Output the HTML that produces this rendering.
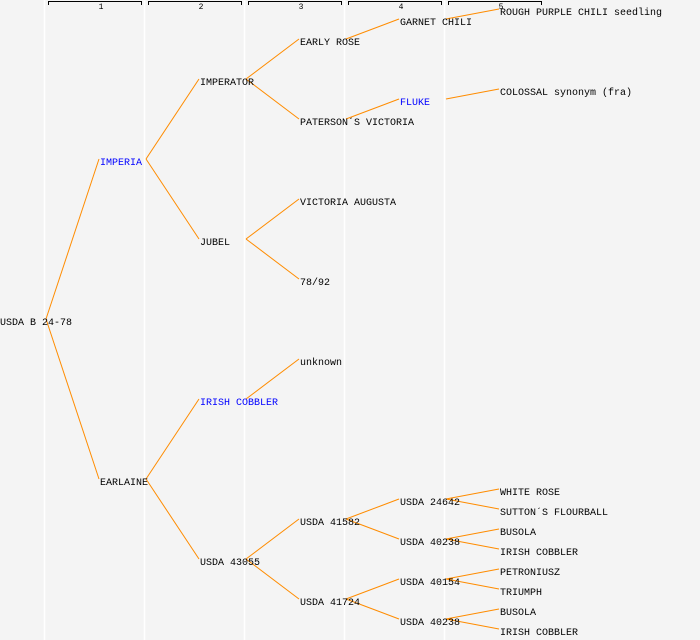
<!DOCTYPE html>
<html><head><meta charset="utf-8"><style>
html,body{margin:0;padding:0;background:#f4f4f4;}
svg{display:block;}
text{font-family:"Liberation Mono","DejaVu Sans Mono",monospace;font-size:10px;fill:#000;}
.b{fill:#0000ff;}
.h{font-size:8px;}
line.c{stroke:#ff8c00;stroke-width:1;}
</style></head><body>
<svg width="700" height="640" xmlns="http://www.w3.org/2000/svg">
<rect width="700" height="640" fill="#f4f4f4"/>
<g stroke="#ffffff" stroke-width="1.5">
<line x1="44.5" y1="0" x2="44.5" y2="640"/><line x1="144.5" y1="0" x2="144.5" y2="640"/><line x1="244.5" y1="0" x2="244.5" y2="640"/><line x1="344.5" y1="0" x2="344.5" y2="640"/><line x1="444.5" y1="0" x2="444.5" y2="640"/>
</g>
<g stroke="#000" stroke-width="1" fill="none">
<path d="M48.5,5V1.5H141.5V5"/><path d="M148.5,5V1.5H241.5V5"/><path d="M248.5,5V1.5H341.5V5"/><path d="M348.5,5V1.5H441.5V5"/><path d="M448.5,5V1.5H541.5V5"/>
</g>
<g text-anchor="middle">
<text class="h" x="101" y="9">1</text><text class="h" x="201" y="9">2</text><text class="h" x="301" y="9">3</text><text class="h" x="401" y="9">4</text><text class="h" x="501" y="9">5</text>
</g>
<g>
<line class="c" x1="46" y1="319" x2="99" y2="159"/><line class="c" x1="46" y1="319" x2="99" y2="479"/>
<line class="c" x1="146" y1="159" x2="199" y2="79"/><line class="c" x1="146" y1="159" x2="199" y2="239"/>
<line class="c" x1="146" y1="479" x2="199" y2="399"/><line class="c" x1="146" y1="479" x2="199" y2="559"/>
<line class="c" x1="246" y1="79" x2="299" y2="39"/><line class="c" x1="246" y1="79" x2="299" y2="119"/>
<line class="c" x1="246" y1="239" x2="299" y2="199"/><line class="c" x1="246" y1="239" x2="299" y2="279"/>
<line class="c" x1="246" y1="399" x2="299" y2="359"/>
<line class="c" x1="246" y1="559" x2="299" y2="519"/><line class="c" x1="246" y1="559" x2="299" y2="599"/>
<line class="c" x1="346" y1="39" x2="399" y2="19"/>
<line class="c" x1="346" y1="119" x2="399" y2="99"/>
<line class="c" x1="346" y1="519" x2="399" y2="499"/><line class="c" x1="346" y1="519" x2="399" y2="539"/>
<line class="c" x1="346" y1="599" x2="399" y2="579"/><line class="c" x1="346" y1="599" x2="399" y2="619"/>
<line class="c" x1="446" y1="19" x2="499" y2="9"/>
<line class="c" x1="446" y1="99" x2="499" y2="89"/>
<line class="c" x1="446" y1="499" x2="499" y2="489"/><line class="c" x1="446" y1="499" x2="499" y2="509"/>
<line class="c" x1="446" y1="539" x2="499" y2="529"/><line class="c" x1="446" y1="539" x2="499" y2="549"/>
<line class="c" x1="446" y1="579" x2="499" y2="569"/><line class="c" x1="446" y1="579" x2="499" y2="589"/>
<line class="c" x1="446" y1="619" x2="499" y2="609"/><line class="c" x1="446" y1="619" x2="499" y2="629"/>
</g>
<g transform="translate(0,-1)">
<text x="0" y="326">USDA B 24-78</text>
<text x="100" y="166" class="b">IMPERIA</text>
<text x="100" y="486">EARLAINE</text>
<text x="200" y="86">IMPERATOR</text>
<text x="200" y="246">JUBEL</text>
<text x="200" y="406" class="b">IRISH COBBLER</text>
<text x="200" y="566">USDA 43055</text>
<text x="300" y="46">EARLY ROSE</text>
<text x="300" y="126">PATERSON´S VICTORIA</text>
<text x="300" y="206">VICTORIA AUGUSTA</text>
<text x="300" y="286">78/92</text>
<text x="300" y="366">unknown</text>
<text x="300" y="526">USDA 41582</text>
<text x="300" y="606">USDA 41724</text>
<text x="400" y="26">GARNET CHILI</text>
<text x="400" y="106" class="b">FLUKE</text>
<text x="400" y="506">USDA 24642</text>
<text x="400" y="546">USDA 40238</text>
<text x="400" y="586">USDA 40154</text>
<text x="400" y="626">USDA 40238</text>
<text x="500" y="16">ROUGH PURPLE CHILI seedling</text>
<text x="500" y="96">COLOSSAL synonym (fra)</text>
<text x="500" y="496">WHITE ROSE</text>
<text x="500" y="516">SUTTON´S FLOURBALL</text>
<text x="500" y="536">BUSOLA</text>
<text x="500" y="556">IRISH COBBLER</text>
<text x="500" y="576">PETRONIUSZ</text>
<text x="500" y="596">TRIUMPH</text>
<text x="500" y="616">BUSOLA</text>
<text x="500" y="636">IRISH COBBLER</text>
</g>
</svg>
</body></html>
